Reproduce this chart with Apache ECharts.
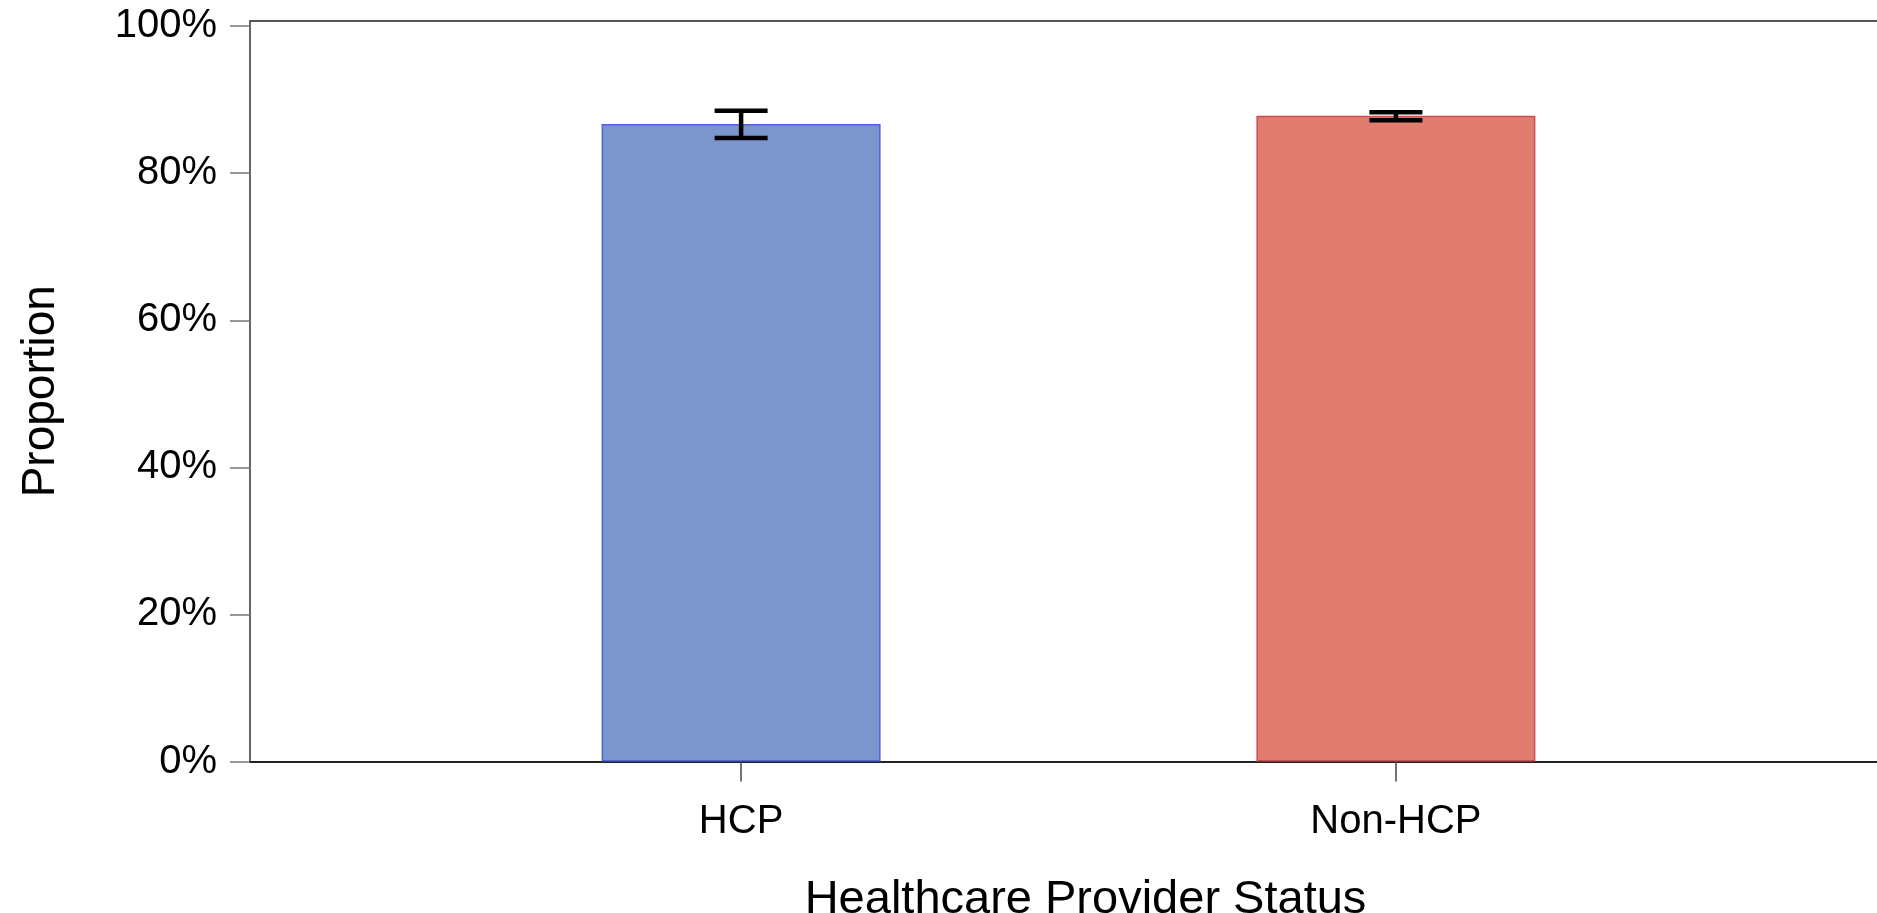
<!DOCTYPE html>
<html><head><meta charset="utf-8">
<script src="https://cdn.jsdelivr.net/npm/echarts@6/dist/echarts.min.js"></script>
<style>html,body{margin:0;padding:0;background:#fff}#c{width:1877px;height:913px}</style>
</head><body><div id="c"></div>
<script>
const categories = ['HCP', 'Non-HCP'];
const proportions = [0.867, 0.878];
const ciLower = [0.848, 0.872];
const ciUpper = [0.885, 0.883];
const yTicks = [0, 0.2, 0.4, 0.6, 0.8, 1.0];
const barColors = ['#7B96CC', '#E07D6E'];
const barBorders = ['#5461DB', '#CC4E55'];

const positions = categories.map((c, i) => i + 1);
const FONT = '"Liberation Sans", Arial, sans-serif';

const chart = echarts.init(document.getElementById('c'));
chart.setOption({
  animation: false,
  backgroundColor: '#fff',
  grid: { left: 250, right: -10, top: 21, bottom: 151.5, containLabel: false, outerBoundsMode: 'none' },
  xAxis: [{
    type: 'value', min: 0.25, max: 2.75, position: 'bottom',
    splitLine: { show: false },
    axisLine: { show: true, lineStyle: { color: '#222', width: 2 } },
    axisTick: { show: true, length: 20, customValues: positions, lineStyle: { color: '#444', width: 1.5 } },
    axisLabel: { customValues: positions, margin: 40, color: '#000', fontSize: 40, fontFamily: FONT,
      formatter: v => categories[Math.round(v) - 1] },
    name: 'Healthcare Provider Status', nameLocation: 'middle', nameGap: 115,
    nameTextStyle: { color: '#000', fontSize: 47, fontFamily: FONT, padding: [0, 0, 0, 34] }
  }, {
    type: 'value', min: 0.25, max: 2.75, position: 'top',
    splitLine: { show: false }, axisTick: { show: false }, axisLabel: { show: false },
    axisLine: { show: true, lineStyle: { color: '#555', width: 2 } }
  }],
  yAxis: {
    type: 'value', min: 0, max: 1.007, interval: 0.2,
    splitLine: { show: false },
    axisLine: { show: true, lineStyle: { color: '#333', width: 1.5 } },
    axisTick: { show: true, length: 20, customValues: yTicks, lineStyle: { color: '#777', width: 1.5 } },
    axisLabel: { customValues: yTicks, margin: 33, color: '#000', fontSize: 40, fontFamily: FONT,
      formatter: v => Math.round(v * 100) + '%' },
    name: 'Proportion', nameLocation: 'middle', nameGap: 186, nameRotate: 90,
    nameTextStyle: { color: '#000', fontSize: 46, fontFamily: FONT }
  },
  series: [{
    type: 'bar', barWidth: 279, xAxisIndex: 0,
    data: positions.map((x, i) => ({
      value: [x, proportions[i]],
      itemStyle: { color: barColors[i], borderColor: barBorders[i], borderWidth: 1.5 }
    }))
  }, {
    type: 'custom', xAxisIndex: 0, z: 5,
    data: positions.map((x, i) => [x, ciLower[i], ciUpper[i]]),
    renderItem: (params, api) => {
      const x = api.value(0);
      const top = api.coord([x, api.value(2)]);
      const bot = api.coord([x, api.value(1)]);
      const half = 26.5;
      const st = { stroke: '#000', lineWidth: 4.5 };
      return { type: 'group', children: [
        { type: 'line', shape: { x1: top[0], y1: top[1], x2: bot[0], y2: bot[1] }, style: st },
        { type: 'line', shape: { x1: top[0] - half, y1: top[1], x2: top[0] + half, y2: top[1] }, style: st },
        { type: 'line', shape: { x1: bot[0] - half, y1: bot[1], x2: bot[0] + half, y2: bot[1] }, style: st }
      ]};
    }
  }]
});
</script></body></html>
